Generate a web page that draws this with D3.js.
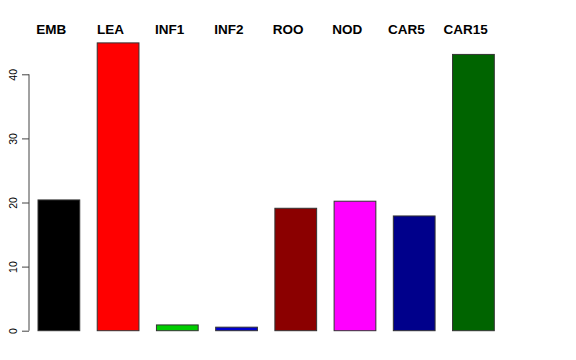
<!DOCTYPE html>
<html>
<head>
<meta charset="utf-8">
<script src="https://cdn.jsdelivr.net/npm/d3@7"></script>
<style>
  body { margin: 0; background: #fff; }
  svg { display: block; }
  .lab { font-family: "Liberation Sans", Arial, sans-serif; font-weight: bold; font-size: 13.5px; }
  .axis text { font-family: "Liberation Sans", Arial, sans-serif; font-size: 10.5px; fill: #000; }
</style>
</head>
<body>
<div id="chart"></div>
<script>
var categories = ["EMB", "LEA", "INF1", "INF2", "ROO", "NOD", "CAR5", "CAR15"];
var values = [20.4, 44.9, 0.9, 0.55, 19.1, 20.2, 17.9, 43.1];
var colors = ["#000000", "#ff0000", "#00cd00", "#0000cd", "#8b0000", "#ff00ff", "#00008b", "#006400"];
var yTicks = [0, 10, 20, 30, 40];

var WIDTH = 576,
    HEIGHT = 360;

var xScale = d3.scaleBand()
  .domain(categories)
  .range([38, 494.3])
  .paddingInner(0.295)
  .paddingOuter(0);

var yScale = d3.scaleLinear()
  .domain([0, 40])
  .range([330.7, 74.3]);

var svg = d3.select("#chart").append("svg")
  .attr("width", WIDTH)
  .attr("height", HEIGHT);

// bars
svg.selectAll(".bar")
  .data(categories)
  .enter().append("rect")
    .attr("class", "bar")
    .attr("x", function(d) { return xScale(d); })
    .attr("width", xScale.bandwidth())
    .attr("y", function(d, i) { return yScale(values[i]); })
    .attr("height", function(d, i) { return yScale(0) - yScale(values[i]); })
    .style("fill", function(d, i) { return colors[i]; })
    .style("stroke", "#333")
    .style("stroke-width", 1);

// labels over the bars
svg.selectAll(".lab")
  .data(categories)
  .enter().append("text")
    .attr("class", "lab")
    .attr("x", function(d) { return xScale(d) + xScale.bandwidth() / 2 - 7.7; })
    .attr("y", 34)
    .style("text-anchor", "middle")
    .text(function(d) { return d; });

// y axis, R style
var yAxis = d3.axisLeft()
  .scale(yScale)
  .tickValues(yTicks)
  .tickSize(7)
  .tickPadding(0);

var g = svg.append("g")
  .attr("class", "axis")
  .attr("transform", "translate(29,0)")
  .call(yAxis);

g.select(".domain")
  .attr("d", "M0," + yScale(0) + "V" + yScale(40))
  .attr("stroke", "#444");
g.selectAll(".tick line").attr("stroke", "#444");
g.selectAll(".tick text")
  .attr("transform", "translate(-11.7,0) rotate(-90)")
  .attr("x", 0)
  .attr("dy", 0)
  .attr("y", 0)
  .style("text-anchor", "middle");
</script>
</body>
</html>
